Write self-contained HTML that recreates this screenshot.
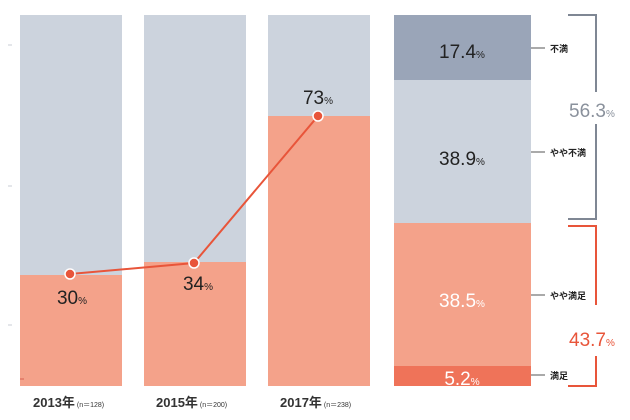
<!DOCTYPE html>
<html><head><meta charset="utf-8"><style>
body{margin:0;background:#fff}
svg{display:block}
text{font-family:"Liberation Sans","Noto Sans CJK JP",sans-serif}
</style></head><body>
<svg width="630" height="420" viewBox="0 0 630 420">
<rect width="630" height="420" fill="#fff"/>
<!-- left bars -->
<rect x="20" y="15" width="102" height="260" fill="#ccd3dd"/>
<rect x="20" y="275" width="102" height="111" fill="#f4a28a"/>
<rect x="144" y="15" width="102" height="247" fill="#ccd3dd"/>
<rect x="144" y="262" width="102" height="124" fill="#f4a28a"/>
<rect x="268" y="15" width="102" height="101" fill="#ccd3dd"/>
<rect x="268" y="116" width="102" height="270" fill="#f4a28a"/>
<g stroke="#c9ced6" stroke-width="1">
<line x1="8" y1="45" x2="12" y2="45"/><line x1="8" y1="186" x2="12" y2="186"/><line x1="8" y1="325" x2="12" y2="325"/>
</g>
<line x1="20" y1="379" x2="24" y2="379" stroke="#d96050" stroke-width="1"/>
<polyline points="70,274 194,263 318,116" fill="none" stroke="#e8553a" stroke-width="2"/>
<g fill="#e8553a" stroke="#fff" stroke-width="1.5">
<circle cx="70" cy="274" r="5"/><circle cx="194" cy="263" r="5"/><circle cx="318" cy="116" r="5"/>
</g>
<g fill="#222" font-size="19" text-anchor="middle">
<text x="72" y="304">30<tspan font-size="10">%</tspan></text>
<text x="198" y="290">34<tspan font-size="10">%</tspan></text>
<text x="318" y="104">73<tspan font-size="10">%</tspan></text>
</g>
<g fill="#333" font-size="13" font-weight="bold">
<text x="33" y="407">2013年<tspan font-size="7" font-weight="normal"> (n＝128)</tspan></text>
<text x="156" y="407">2015年<tspan font-size="7" font-weight="normal"> (n＝200)</tspan></text>
<text x="280" y="407">2017年<tspan font-size="7" font-weight="normal"> (n＝238)</tspan></text>
</g>
<!-- right bar -->
<rect x="394" y="15" width="137" height="65" fill="#9aa5b8"/>
<rect x="394" y="80" width="137" height="143" fill="#ccd3dd"/>
<rect x="394" y="223" width="137" height="143" fill="#f4a28a"/>
<rect x="394" y="366" width="137" height="20" fill="#ef7359"/>
<g font-size="19" text-anchor="middle">
<text x="462" y="58" fill="#222">17.4<tspan font-size="10">%</tspan></text>
<text x="462" y="165" fill="#222">38.9<tspan font-size="10">%</tspan></text>
<text x="462" y="307" fill="#fff">38.5<tspan font-size="10">%</tspan></text>
<text x="462" y="385" fill="#fff">5.2<tspan font-size="10">%</tspan></text>
</g>
<g stroke="#555" stroke-width="1">
<line x1="531" y1="48" x2="545" y2="48"/><line x1="531" y1="152" x2="545" y2="152"/>
<line x1="531" y1="295" x2="545" y2="295"/><line x1="531" y1="375" x2="545" y2="375"/>
</g>
<g font-size="9" fill="#222" font-weight="bold">
<text x="550" y="52">不満</text><text x="550" y="156">やや不満</text>
<text x="550" y="299">やや満足</text><text x="550" y="379">満足</text>
</g>
<path d="M568 15H596V92M596 124V219H568" fill="none" stroke="#7f8794" stroke-width="2"/>
<path d="M568 226H596V305M596 356V386H568" fill="none" stroke="#e8553a" stroke-width="2"/>
<text x="569" y="117" font-size="19" fill="#8a919c">56.3<tspan font-size="10">%</tspan></text>
<text x="569" y="346" font-size="19" fill="#e8553a">43.7<tspan font-size="10">%</tspan></text>
</svg>
</body></html>
